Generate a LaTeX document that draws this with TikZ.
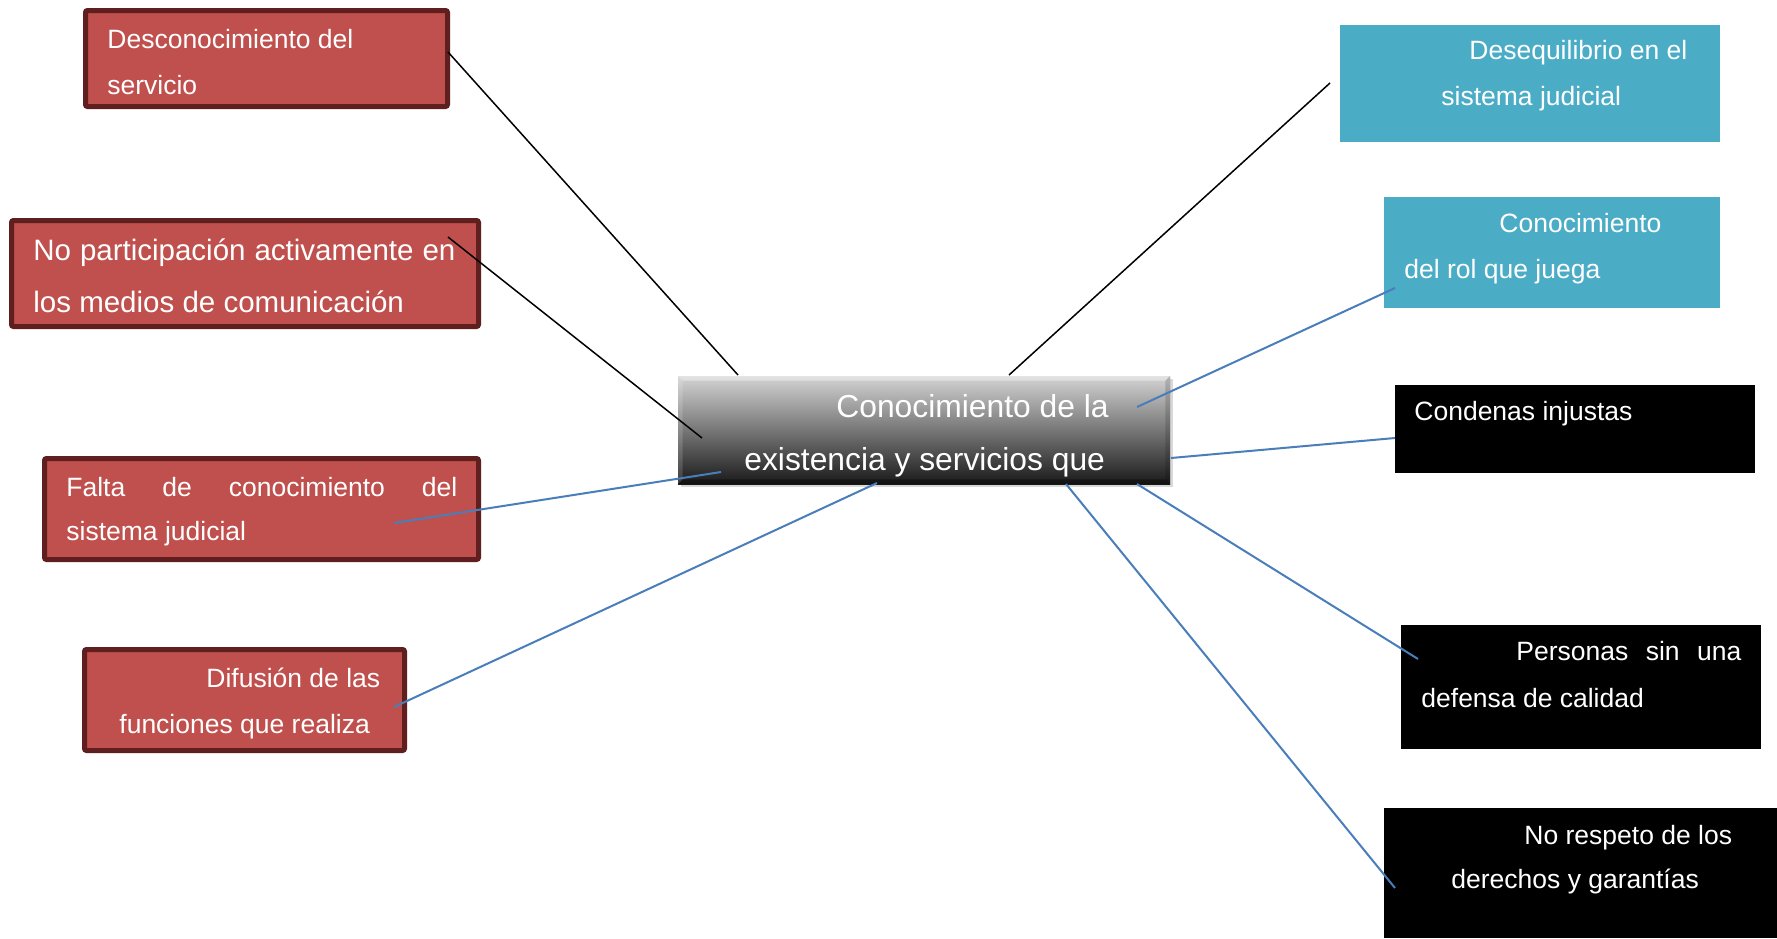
\documentclass[tikz,border=0pt]{standalone}
\usepackage{fontspec}
\setmainfont{Liberation Sans}
\usetikzlibrary{calc,shadows}

\definecolor{redfill}{HTML}{C0504D}
\definecolor{rededge}{HTML}{5E1F1E}
\definecolor{cyanfill}{HTML}{4BACC6}
\definecolor{linkblue}{HTML}{4A7EBB}

\newcommand\lblfont{\fontsize{13.25pt}{16pt}\selectfont}
\newcommand\lblfontbig{\fontsize{14.75pt}{18pt}\selectfont}
\newcommand\ctrfont{\fontsize{15.9pt}{19pt}\selectfont}

\begin{document}
\begin{tikzpicture}[x=0.5pt,y=-0.5pt,
  redbox/.style={draw=rededge, line width=2.5pt, fill=redfill, rounded corners=1pt, inner sep=0pt},
  cyanbox/.style={fill=cyanfill, inner sep=0pt},
  darkbox/.style={fill=black, inner sep=0pt},
  centerbox/.style={inner sep=0pt, top color=black!17, middle color=black!52, bottom color=black!90,
    drop shadow={opacity=0.3, shadow xshift=1.5pt, shadow yshift=-1.5pt}},
  lbl/.style={anchor=base west, inner sep=0pt, text=white, font=\lblfont},
  lblbig/.style={lbl, font=\lblfontbig},
  lblctr/.style={lbl, font=\ctrfont},
  darklink/.style={draw=black, line width=0.75pt},
  bluelink/.style={draw=linkblue, line width=1pt}]

\useasboundingbox (0,0) rectangle (1777,938);
\fill[white] (0,0) rectangle (1777,938);

% left-hand causes
\node[redbox, minimum width=181pt,   minimum height=48pt]   (b1) at (266.5,58.5) {};
\node[redbox, minimum width=233.5pt, minimum height=53pt]   (b2) at (245,273.5) {};
\node[redbox, minimum width=217pt,   minimum height=50.5pt] (b3) at (261.5,509) {};
\node[redbox, minimum width=160pt,   minimum height=50.5pt] (b4) at (244.5,700) {};

% right-hand effects
\node[cyanbox, minimum width=190pt,   minimum height=58.5pt] (b5) at (1530,83.5) {};
\node[cyanbox, minimum width=168pt,   minimum height=55.5pt] (b6) at (1552,252.5) {};
\node[darkbox, minimum width=180pt,   minimum height=44pt]   (b7) at (1575,429) {};
\node[darkbox, minimum width=180pt,   minimum height=62pt]   (b8) at (1581,687) {};
\node[darkbox, minimum width=196.5pt, minimum height=65pt]   (b9) at (1580.5,873) {};

% central problem with bevelled edges
\node[centerbox, minimum width=246pt, minimum height=54pt] (c) at (924,430) {};
\fill[white, opacity=0.35] (c.north west) -- (c.north east) -- ($(c.north east)+(-5,5)$) -- ($(c.north west)+(5,5)$) -- cycle;
\fill[white, opacity=0.15] (c.north west) -- ($(c.north west)+(5,5)$) -- ($(c.south west)+(5,-5)$) -- (c.south west) -- cycle;
\fill[black, opacity=0.15] (c.north east) -- ($(c.north east)+(-5,5)$) -- ($(c.south east)+(-5,-5)$) -- (c.south east) -- cycle;
\fill[black, opacity=0.3] (c.south west) -- ($(c.south west)+(5,-5)$) -- ($(c.south east)+(-5,-5)$) -- (c.south east) -- cycle;

% texts
\node[lbl] (t1a) at (107,48) {Desconocimiento del};
\node[lbl] (t1b) at (107,94) {servicio};
\node[lblbig] (t2a) at (33,260) {\hbox to 211pt{No\hfill participación\hfill activamente\hfill en}};
\node[lblbig] (t2b) at (33,312) {los medios de comunicación};
\node[lbl] (t3a) at (66,496) {\hbox to 195.5pt{Falta\hfill de\hfill conocimiento\hfill del}};
\node[lbl] (t3b) at (66,540) {sistema judicial};
\node[lbl] (t4a) at (206,687) {Difusión de las};
\node[lbl] (t4b) at (119,733) {funciones que realiza};
\node[lbl] (t5a) at (1469,59) {Desequilibrio en el};
\node[lbl] (t5b) at (1441,105) {sistema judicial};
\node[lbl] (t6a) at (1499,232) {Conocimiento};
\node[lbl] (t6b) at (1404,278) {del rol que juega};
\node[lbl] (t7a) at (1414,420) {Condenas injustas};
\node[lbl] (t8a) at (1516,660) {\hbox to 112.5pt{Personas\hfill sin\hfill una}};
\node[lbl] (t8b) at (1421,707) {defensa de calidad};
\node[lbl] (t9a) at (1524,844) {No respeto de los};
\node[lbl] (t9b) at (1451,888) {derechos y garantías};
\node[lblctr] (tca) at (836,417) {Conocimiento de la};
\node[lblctr] (tcb) at (744,470) {existencia y servicios que};

% connector ends
\coordinate (p1) at (448,52);    \coordinate (q1) at (738,375);
\coordinate (p2) at (448,237);   \coordinate (q2) at (702,438);
\coordinate (p3) at (1330,83);   \coordinate (q3) at (1009,375);
\coordinate (p4) at (1395,288);  \coordinate (q4) at (1137,407);
\coordinate (p5) at (1395,438);  \coordinate (q5) at (1171,458);
\coordinate (p6) at (1418,659);  \coordinate (q6) at (1137,484);
\coordinate (p7) at (1395,888);  \coordinate (q7) at (1066,484);
\coordinate (p8) at (394,707);   \coordinate (q8) at (877,483);
\coordinate (p9) at (394,523);   \coordinate (q9) at (721,472);

% connectors
\draw[darklink] (p1) -- (q1);
\draw[darklink] (p2) -- (q2);
\draw[darklink] (p3) -- (q3);
\draw[bluelink] (p4) -- (q4);
\draw[bluelink] (p5) -- (q5);
\draw[bluelink] (q6) -- (p6);
\draw[bluelink] (q7) -- (p7);
\draw[bluelink] (q8) -- (p8);
\draw[bluelink] (q9) -- (p9);
\end{tikzpicture}
\end{document}
